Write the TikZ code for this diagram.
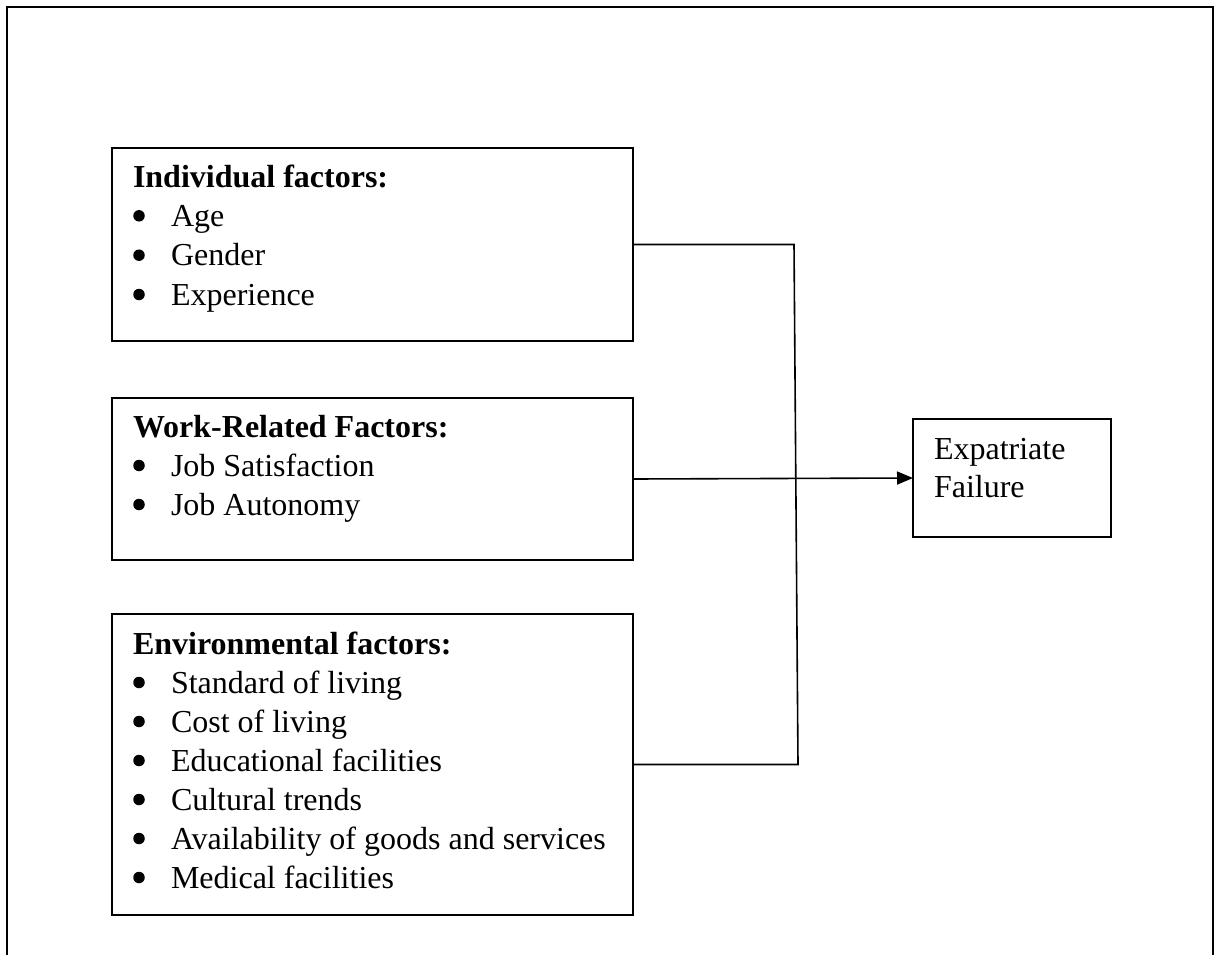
\documentclass[tikz,border=0pt]{standalone}
\usepackage{fontspec}
\setmainfont{Liberation Serif}
\usetikzlibrary{arrows.meta}

\begin{document}
\begin{tikzpicture}[x=1pt,y=-1pt,
  box/.style={draw=black, line width=1.6pt, rectangle, inner sep=0pt, outer sep=0pt},
  line/.style={inner sep=0pt, outer sep=0pt, anchor=base west,
    font=\fontsize{32}{39}\selectfont},
  head/.style={line, font=\fontsize{32}{39}\selectfont\bfseries},
  link/.style={draw=black, line width=1.6pt},
  dot/.style={circle, fill=black, inner sep=0pt, minimum size=11.5pt}
]
% page area and open frame (no bottom edge)
\useasboundingbox (0,0) rectangle (1220,955);
\draw[line width=2.2pt] (7,955) -- (7,7) -- (1213,7) -- (1213,955);

% factor boxes
\node[box, minimum width=521pt, minimum height=193pt] (ind)  at (372.5,244.5) {};
\node[box, minimum width=521pt, minimum height=162pt] (work) at (372.5,479)   {};
\node[box, minimum width=521pt, minimum height=301pt] (env)  at (372.5,764.5) {};
\node[box, minimum width=198pt, minimum height=118pt] (exp)  at (1012,478)    {};

% headings
\node[head] (indh)  at (133,187) {Individual factors:};
\node[head] (workh) at (133,437) {Work-Related Factors:};
\node[head] (envh)  at (133,654) {Environmental factors:};

% bulleted items
\foreach \t/\y [count=\i] in {Age/226.3, Gender/265.7, Experience/305}{
  \node[dot] (indb\i) at (139,\y-10.5) {};
  \node[line] (indi\i) at (171,\y) {\t};
}
\foreach \t/\y [count=\i] in {Job Satisfaction/476, Job Autonomy/515}{
  \node[dot] (workb\i) at (139,\y-10.5) {};
  \node[line] (worki\i) at (171,\y) {\t};
}
\foreach \t/\y [count=\i] in {Standard of living/693, Cost of living/732,
    Educational facilities/771, Cultural trends/810,
    Availability of goods and services/849, Medical facilities/888}{
  \node[dot] (envb\i) at (139,\y-10.5) {};
  \node[line] (envi\i) at (171,\y) {\t};
}

% outcome text
\node[line] (exp1) at (934,459) {Expatriate};
\node[line] (exp2) at (934,497) {Failure};

% connectors
\coordinate (jt) at (794,244.5);
\coordinate (jb) at (798,764.5);
\draw[link] (ind.east) -- (jt) -- (jb) -- (env.east);
\draw[link, -{Triangle[length=16pt,width=13pt]}] (work.east) -- (exp.west);
\end{tikzpicture}
\end{document}
